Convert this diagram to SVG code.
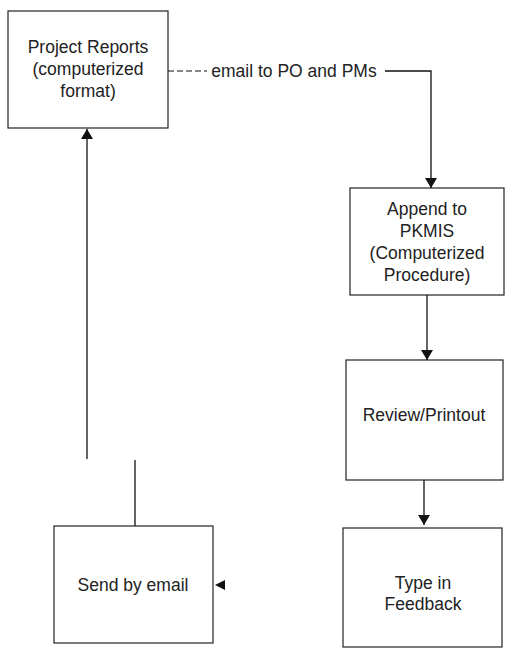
<svg xmlns="http://www.w3.org/2000/svg" width="505" height="651" viewBox="0 0 505 651">
<defs>
<marker id="ah" viewBox="0 0 10 12" refX="10" refY="6" markerWidth="10" markerHeight="12" markerUnits="userSpaceOnUse" orient="auto">
<path d="M0,0 L10,6 L0,12 z" fill="#111"/>
</marker>
</defs>
<style>
.box{fill:#fff;stroke:#222;stroke-width:1.2}
.t{font-family:"Liberation Sans",Arial,sans-serif;font-size:17.5px;fill:#222;text-anchor:middle}
.ln{fill:none;stroke:#111;stroke-width:1.3}
.dash{fill:none;stroke:#111;stroke-width:1.2;stroke-dasharray:6,3}
</style>
<rect width="505" height="651" fill="#fff"/>
<g id="project-reports">
<rect class="box" x="8" y="11" width="160" height="117"/>
<text class="t" x="88" y="53">Project Reports</text>
<text class="t" x="88" y="75">(computerized</text>
<text class="t" x="88" y="97">format)</text>
</g>
<g id="append-pkmis">
<rect class="box" x="350" y="188" width="154" height="107"/>
<text class="t" x="427" y="215">Append to</text>
<text class="t" x="427" y="237">PKMIS</text>
<text class="t" x="427" y="259">(Computerized</text>
<text class="t" x="427" y="281">Procedure)</text>
</g>
<g id="review-printout">
<rect class="box" x="346" y="360" width="157" height="120"/>
<text class="t" x="424" y="421">Review/Printout</text>
</g>
<g id="type-feedback">
<rect class="box" x="343" y="528" width="159" height="119"/>
<text class="t" x="423" y="589">Type in</text>
<text class="t" x="423" y="610">Feedback</text>
</g>
<g id="send-email">
<rect class="box" x="54" y="526" width="159" height="117"/>
<text class="t" x="133" y="591">Send by email</text>
</g>
<g id="connectors">
<line class="dash" x1="168" y1="71" x2="207" y2="71"/>
<text class="t" x="294" y="77">email to PO and PMs</text>
<polyline class="ln" points="385,71 431,71 431,188" marker-end="url(#ah)"/>
<line class="ln" x1="87" y1="459" x2="87" y2="129" marker-end="url(#ah)"/>
<line class="ln" x1="135" y1="460" x2="135" y2="526"/>
<line class="ln" x1="427" y1="295" x2="427" y2="360" marker-end="url(#ah)"/>
<line class="ln" x1="424" y1="480" x2="424" y2="525" marker-end="url(#ah)"/>
<path d="M215,585 L225,580 L225,590 z" fill="#111"/>
</g>
</svg>
